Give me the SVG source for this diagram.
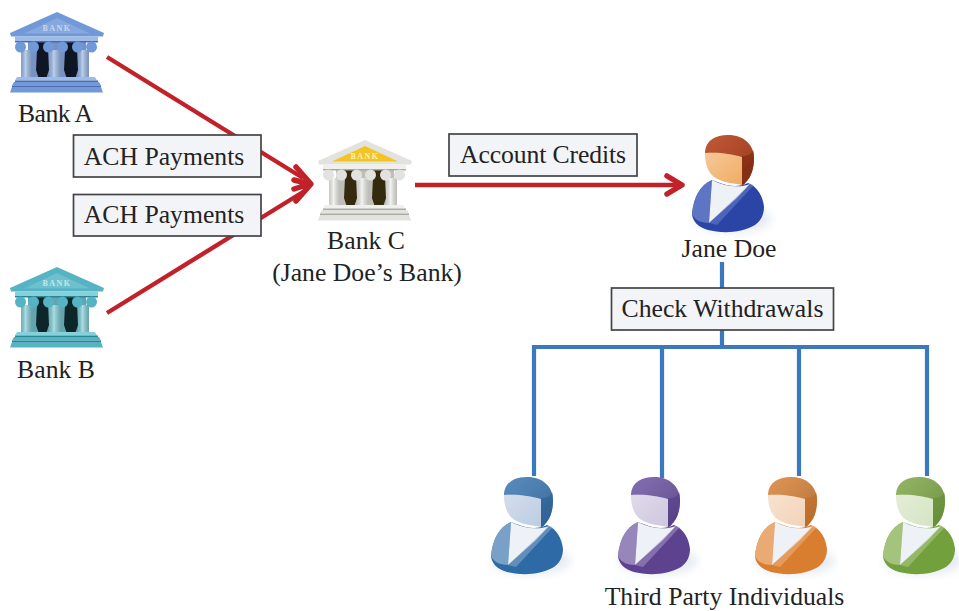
<svg xmlns="http://www.w3.org/2000/svg" width="959" height="611" viewBox="0 0 959 611">
<style>
text{font-family:"Liberation Serif","Times New Roman",serif;font-size:25.7px;fill:#222;text-anchor:middle}
.box{fill:#f2f4f7;stroke:#444;stroke-width:1.7}
.red{fill:none;stroke:#c1222a;stroke-width:4.4}
.head{fill:none;stroke:#c1222a;stroke-width:5.5;stroke-linecap:round;stroke-linejoin:round}
.blue{fill:none;stroke:#3a78bf;stroke-width:4.2}
.roof{fill:var(--m)}.lt{fill:var(--l)}.dk{fill:var(--d)}.door{fill:var(--door)}.ty{fill:var(--ty)}
.hair{fill:var(--hair)}.hd{fill:var(--hd)}.face{fill:var(--face)}.suit{fill:var(--suit)}.sl{fill:var(--sl)}
.bk{font-size:8px;font-weight:bold;letter-spacing:1.5px}
</style>
<defs>
<linearGradient id="faceShade" x1="0" y1="0" x2="1" y2="1"><stop offset="0" stop-color="#fff" stop-opacity=".35"/><stop offset="1" stop-color="#fff" stop-opacity="0"/></linearGradient>
<linearGradient id="colShade" x1="0" y1="0" x2="1" y2="0"><stop offset="0" stop-color="#000" stop-opacity=".14"/><stop offset=".4" stop-color="#fff" stop-opacity=".3"/><stop offset="1" stop-color="#000" stop-opacity=".22"/></linearGradient>
<linearGradient id="hairShade" x1="0" y1="0" x2="1" y2="1"><stop offset="0" stop-color="#fff" stop-opacity=".12"/><stop offset="1" stop-color="#000" stop-opacity=".22"/></linearGradient>
<filter id="soft" x="-30%" y="-30%" width="160%" height="160%"><feGaussianBlur stdDeviation="4"/></filter>
<filter id="ease" x="-5%" y="-5%" width="110%" height="110%"><feGaussianBlur stdDeviation=".55"/></filter>
<g id="bankShape" filter="url(#ease)">
<rect class="dk" x="28" y="42" width="58" height="36" opacity=".75"/>
<path class="door" d="M36 42h13l-1 8 1 20-3 9h-7l-3-9 1-20zM64 42h14l-1 8 1 20-3 9h-8l-3-9 1-20z"/>
<path class="roof" d="M57 12 10 33l1 3.500h92l1-3.500z"/>
<path class="ty" d="M57 18 24 33.500h66z"/>
<rect class="lt" x="15" y="36.500" width="83" height="5.500"/>
<rect class="dk" x="15" y="41" width="83" height="1.500"/>
<rect class="lt" x="21" y="50" width="11" height="28"/><rect x="21" y="50" width="11" height="28" fill="url(#colShade)"/>
<rect class="lt" x="49" y="50" width="12" height="28"/><rect x="49" y="50" width="12" height="28" fill="url(#colShade)"/>
<rect class="lt" x="78" y="50" width="11" height="28"/><rect x="78" y="50" width="11" height="28" fill="url(#colShade)"/>
<g class="roof"><circle cx="20.500" cy="47" r="5.500"/><circle cx="33.500" cy="47" r="5.500"/><circle cx="48.500" cy="47" r="5.500"/><circle cx="62.500" cy="47" r="5.500"/><circle cx="77.500" cy="47" r="5.500"/><circle cx="91.500" cy="47" r="5.500"/></g>
<path class="lt" d="M17 77h78l2 3.500H15z"/><path class="dk" d="M15 80.500h83v1.500H15z"/>
<path class="roof" d="M14 82h85l2 3.500H12z"/><path class="dk" d="M12 85.500h89v1.500H12z"/>
<path class="roof" d="M12 87h89l2 5.500H10z"/>
</g>
<g id="personShape" filter="url(#ease)">
<ellipse cx="62" cy="94" rx="40" ry="14" fill="#d4dce8" opacity=".55" filter="url(#soft)"/>
<path class="suit" d="M42 55C30 60 24 72 22 88c0 8 6 14 16 17 12 3 32 4 47-5 7-5 9-12 9-18-1-10-6-20-16-24-8 4-18 4-28 0z"/>
<path class="sl" d="M42 55C30 60 24 72 22 88c1 6 8 10 17 10z" opacity=".75"/>
<path d="M42 55 39 98 67 73 80 59C70 63 55 62 42 55z" fill="#eef2f6"/>
<path class="sl" d="M39 98 80 59l4 1-37 40z" opacity=".5"/>
<path class="hair" d="M35 27C36 15 46 10 58 10c16 0 26 10 26 23 0 11-3 19-8 24-2 3-4 3-5 3l-1-28-35-3z"/>
<path d="M35 27C36 15 46 10 58 10c16 0 26 10 26 23 0 11-3 19-8 24-2 3-4 3-5 3l-1-28-35-3z" fill="url(#hairShade)"/>
<path class="hd" d="M72 31c6 0 10-2 11-6 1 2 1 5 1 8 0 11-3 19-8 24-2 3-3 3-4 3z" opacity=".6"/>
<path class="face" d="M35 28c15-1 25 1 37 4v28c-10-2-16-2-22-5C40 52 35 42 35 28z"/>
<path d="M35 28c15-1 25 1 37 4v28c-10-2-16-2-22-5C40 52 35 42 35 28z" fill="url(#faceShade)"/>
</g>
</defs>
<rect width="959" height="611" fill="#fff"/>
<g id="connectors">
<path class="red" d="M107 57 303 178M107 313 303 192M415 185H678"/>
<path class="head" d="M296 167 311 184 296 201M294 180 310 184 294 189"/>
<path class="head" d="M667 176 682 185 667 194"/>
<path class="blue" d="M722 262V347M532 347H929M534 345V476M662 345V478M799 345V476M927 345V476"/>
</g>
<g id="bankA" style="--m:#7199d8;--l:#9dbbe8;--d:#4a6cb2;--door:#111724;--ty:#87a8de"><use href="#bankShape"/><text class="bk" x="57" y="31" style="fill:#c6d6f0">BANK</text><text x="55.500" y="122" textLength="75">Bank A</text></g>
<g id="bankB" style="--m:#54b3c4;--l:#86d0da;--d:#2b8596;--door:#10262b;--ty:#6ec0cd"><use href="#bankShape" y="255"/><text class="bk" x="57" y="286" style="fill:#c5e7ec">BANK</text><text x="56" y="378">Bank B</text></g>
<g id="bankC" style="--m:#e2e2de;--l:#efefec;--d:#a9a9a3;--door:#35290f;--ty:#f2c522"><use href="#bankShape" x="308" y="128"/><text class="bk" x="365" y="159" style="fill:#fff2c0">BANK</text><text x="366" y="249">Bank C</text><text x="367" y="281">(Jane Doe’s Bank)</text></g>
<g id="janeDoe" style="--hair:#b63f18;--hd:#7a2410;--face:#f0ac62;--suit:#2a44a6;--sl:#6f86cc"><use href="#personShape" x="670" y="125"/><text x="729" y="257">Jane Doe</text></g>
<g id="person1" style="--hair:#3f7bb4;--hd:#2a5f98;--face:#bccce2;--suit:#2f6aa6;--sl:#93b3d2"><use href="#personShape" x="469" y="467"/></g>
<g id="person2" style="--hair:#7058a6;--hd:#533c8a;--face:#cfc7df;--suit:#5d438f;--sl:#ab9cc9"><use href="#personShape" x="596" y="467"/></g>
<g id="person3" style="--hair:#d9853c;--hd:#c26c24;--face:#f3d3b8;--suit:#d97e2e;--sl:#edb98b"><use href="#personShape" x="733" y="467"/></g>
<g id="person4" style="--hair:#82ab4b;--hd:#668f34;--face:#d5e4c2;--suit:#72a03c;--sl:#b5cf93"><use href="#personShape" x="861" y="467"/></g>
<g id="labelAch1"><rect class="box" x="73.500" y="135" width="187.500" height="42"/><text x="164" y="165">ACH Payments</text></g>
<g id="labelAch2"><rect class="box" x="73.500" y="194.500" width="187.500" height="41.500"/><text x="164" y="223">ACH Payments</text></g>
<g id="labelCredits"><rect class="box" x="449" y="134" width="188" height="42"/><text x="543" y="163" textLength="166">Account Credits</text></g>
<g id="labelChecks"><rect class="box" x="611.500" y="288" width="222" height="42"/><text x="722.500" y="317">Check Withdrawals</text></g>
<g id="thirdParty"><text x="724.500" y="604.500">Third Party Individuals</text></g>
</svg>
